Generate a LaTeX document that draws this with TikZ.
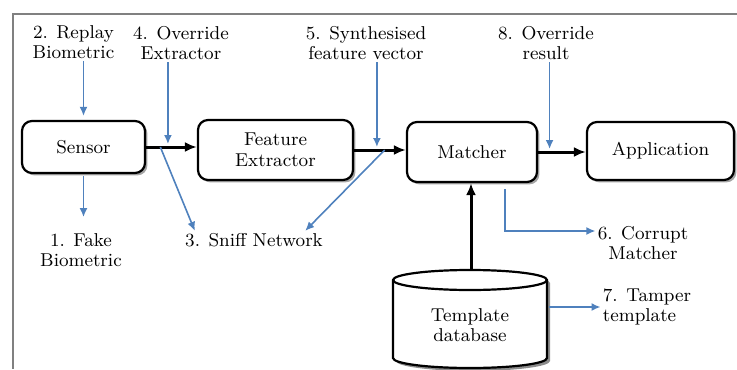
\documentclass[tikz,border=0pt]{standalone}
\usetikzlibrary{arrows.meta,shadows}
\definecolor{atkblue}{HTML}{4F81BD}

\begin{document}
\begin{tikzpicture}[x=0.5pt,y=-0.5pt,
	blk/.style={draw,line width=1.1pt,rounded corners=5pt,fill=white,align=center,font=\fontsize{9.3}{10.5}\selectfont,drop shadow={shadow xshift=1.2pt,shadow yshift=-1.2pt,fill=black!70,opacity=0.5}},
	lbl/.style={align=center,inner sep=1pt,font=\fontsize{9.3}{10}\selectfont},
	flow/.style={line width=1.5pt,-{Latex[length=6pt,width=5pt]}},
	atk/.style={draw=atkblue,line width=0.8pt,-{Latex[length=4.5pt,width=4pt]}}]
	\useasboundingbox (0,0) rectangle (737,369);
	\draw[gray,line width=1pt] (737,14) -- (13,14) -- (13,369);
	\node[blk,minimum width=61.5pt,minimum height=26pt] (sensor) at (83.5,147) {Sensor};
	\node[blk,minimum width=77.5pt,minimum height=30pt] (fe) at (275.5,150) {Feature\\Extractor};
	\node[blk,minimum width=65pt,minimum height=30pt] (matcher) at (472,152) {Matcher};
	\node[blk,minimum width=73.5pt,minimum height=29pt] (app) at (660.5,151) {Application};
	\fill[black!45,shift={(3,3)}] (393,280) -- (393,358) arc[start angle=180,end angle=360,x radius=38.5pt,y radius=5pt] -- (547,280) arc[start angle=0,end angle=180,x radius=38.5pt,y radius=5pt] -- cycle;
	\filldraw[fill=white,line width=1.1pt] (393,280) -- (393,358) arc[start angle=180,end angle=360,x radius=38.5pt,y radius=5pt] -- (547,280) arc[start angle=0,end angle=180,x radius=38.5pt,y radius=5pt] -- cycle;
	\draw[line width=1.1pt] (393,280) arc[start angle=180,end angle=360,x radius=38.5pt,y radius=5pt];
	\node[lbl] (db) at (470,325) {Template\\database};
	\coordinate (dbtop) at (471,270);
	\coordinate (dbside) at (549,307);
	\node[lbl] (t2) at (73.5,42) {2. Replay\\Biometric};
	\node[lbl] (t4) at (181,43) {4. Override\\Extractor};
	\node[lbl] (t5) at (366,43) {5. Synthesised\\feature vector};
	\node[lbl] (t8) at (546,43) {8. Override\\result};
	\node[lbl] (t1) at (81,250) {1. Fake\\Biometric};
	\node[lbl] (t3) at (254,240) {3. Sniff Network};
	\node[lbl] (t6) at (643,243) {6. Corrupt\\Matcher};
	\node[lbl,align=left] (t7) at (647,307) {7. Tamper\\template};
	\draw[flow] (sensor.east) -- (sensor.east -| fe.west) coordinate[pos=.28] (c3a) coordinate[pos=.43] (c4);
	\draw[flow] (fe.east) -- (fe.east -| matcher.west) coordinate[pos=.44] (c5) coordinate[pos=.59] (c3b);
	\draw[flow] (matcher.east) -- (matcher.east -| app.west) coordinate[pos=.24] (c8);
	\draw[flow] (dbtop) -- (dbtop |- matcher.south);
	\draw[atk] (t2.south -| sensor.north) -- ([yshift=2pt]sensor.north);
	\draw[atk,shorten <=1pt,shorten >=7pt] (sensor.south) -- (sensor.south |- t1.north);
	\draw[atk] (t4.south -| c4) -- ([yshift=1.5pt]c4);
	\draw[atk] (t5.south -| c5) -- ([yshift=1.5pt]c5);
	\draw[atk] (t8.south -| c8) -- ([yshift=1.5pt]c8);
	\draw[atk] (c3a) -- ([xshift=6pt]t3.north west);
	\draw[atk] (c3b) -- ([xshift=-10pt]t3.north east);
	\draw[atk] ([xshift=16.5pt,yshift=-3pt]matcher.south) |- ([yshift=6pt]t6.west);
	\draw[atk] (dbside) -- (t7.west);
\end{tikzpicture}
\end{document}
